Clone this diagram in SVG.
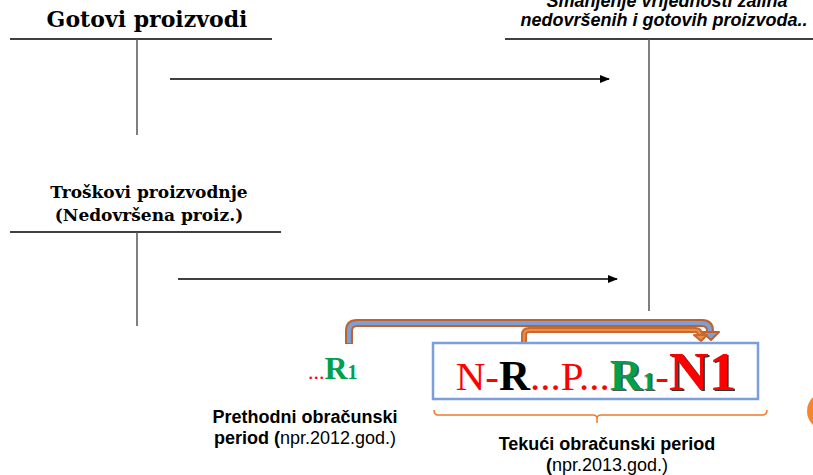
<svg xmlns="http://www.w3.org/2000/svg" width="813" height="475" viewBox="0 0 813 475">
<style>
.hl{stroke:#000;stroke-width:1.5;fill:none}
.vl{stroke:#555;stroke-width:1.5;fill:none}
.arr{stroke:#000;stroke-width:1.5;fill:none;marker-end:url(#ah)}
.title{font-family:"DejaVu Serif",Georgia,serif;font-weight:bold;fill:#000;text-anchor:middle}
.lbl{font-family:"Liberation Sans",Arial,sans-serif;font-size:18px;fill:#000;text-anchor:middle}
.b{font-weight:bold}
.it{font-family:"Liberation Sans",Arial,sans-serif;font-size:18px;font-weight:bold;font-style:italic;fill:#000;text-anchor:middle}
.tm{font-family:"Liberation Serif","Times New Roman",serif}
.red{fill:#ff0000}
.grn{fill:#00a04c}
.blk{fill:#000}
</style>
<defs>
<marker id="ah" markerWidth="10" markerHeight="8" refX="9" refY="4" orient="auto" markerUnits="userSpaceOnUse">
<path d="M0,0 L10,4 L0,8 Z" fill="#000"/>
</marker>
</defs>

<g id="gotovi">
<text class="title" x="147" y="27" font-size="22">Gotovi proizvodi</text>
<line class="hl" x1="10" y1="39" x2="272" y2="39"/>
<line class="vl" x1="137" y1="39" x2="137" y2="135"/>
</g>

<g id="troskovi">
<text class="title" x="149" y="198" font-size="17">Troškovi proizvodnje</text>
<text class="title" x="149" y="221" font-size="17">(Nedovršena proiz.)</text>
<line class="hl" x1="10" y1="232" x2="281" y2="232"/>
<line class="vl" x1="137" y1="232" x2="137" y2="326"/>
</g>

<g id="smanjenje">
<text class="it" x="667" y="7">Smanjenje vrijednosti zaliha</text>
<text class="it" x="664" y="26">nedovršenih i gotovih proizvoda..</text>
<line class="hl" x1="505" y1="39" x2="813" y2="39"/>
<line class="vl" x1="649" y1="39" x2="649" y2="311"/>
</g>

<g id="connectors">
<line class="arr" x1="170" y1="79" x2="609" y2="79"/>
<line class="arr" x1="178" y1="279" x2="617" y2="279"/>
<path d="M349,344 V331 Q349,323 357,323 H702 Q710,323 710,331 V333" fill="none" stroke="#c0622b" stroke-width="8"/>
<path d="M349,343 V331 Q349,323 357,323 H702 Q710,323 710,331 V333" fill="none" stroke="#7b9fd9" stroke-width="4"/>
<path d="M702,332 L719,332 L711,340 Z" fill="#7b9fd9" stroke="#c0622b" stroke-width="2" stroke-linejoin="round"/>
<path d="M524,343 V335 Q524,330 529,330 H695 Q700,330 700,335 V336" fill="none" stroke="#c8692f" stroke-width="6"/>
<path d="M524,343 V335 Q524,330 529,330 H695 Q700,330 700,335 V336" fill="none" stroke="#ee8d48" stroke-width="2"/>
<path d="M694,335 L707,335 L701,341 Z" fill="#ee8d48" stroke="#c8692f" stroke-width="2" stroke-linejoin="round"/>
</g>

<g id="prev">
<text class="tm" x="308" y="379"><tspan class="red" font-size="22">...</tspan><tspan class="grn" font-weight="bold" font-size="32">R</tspan><tspan class="grn" font-weight="bold" font-size="20">1</tspan></text>
<text class="lbl" x="305" y="423"><tspan class="b">Prethodni obračunski</tspan></text>
<text class="lbl" x="305" y="444"><tspan class="b">period (</tspan>npr.2012.god.)</text>
</g>

<g id="current">
<rect x="433" y="343" width="325" height="56" fill="#fff" stroke="#7b9fdc" stroke-width="2.5"/>
<text class="tm" x="597.5" y="391" text-anchor="middle" font-size="41" fill="none"><tspan fill="none">N-</tspan><tspan font-weight="bold" font-size="43" fill="none">R</tspan><tspan fill="none">...P...</tspan><tspan font-weight="bold" font-size="45" fill="#555">R</tspan><tspan font-weight="bold" font-size="26" fill="#555">1</tspan><tspan fill="none">-</tspan><tspan font-weight="bold" font-size="55" fill="#333">N1</tspan></text>
<text class="tm" x="596" y="389.5" text-anchor="middle" font-size="41"><tspan class="red">N-</tspan><tspan class="blk" font-weight="bold" font-size="43">R</tspan><tspan class="red">...P...</tspan><tspan class="grn" font-weight="bold" font-size="45">R</tspan><tspan class="grn" font-weight="bold" font-size="26">1</tspan><tspan class="red">-</tspan><tspan class="red" font-weight="bold" font-size="55">N1</tspan></text>
<path d="M434,410 Q434,415 438,415 H593 Q597,415 597,419 V423 M597,419 Q597,415 601,415 H762 Q767,415 767,410" fill="none" stroke="#f07b2a" stroke-width="1.5"/>
<text class="lbl" x="607" y="450"><tspan class="b">Tekući obračunski period</tspan></text>
<text class="lbl" x="607" y="471"><tspan class="b">(</tspan>npr.2013.god.)</text>
</g>

<g id="circle">
<circle cx="826" cy="411" r="19" fill="#f5862e"/>
</g>
</svg>
